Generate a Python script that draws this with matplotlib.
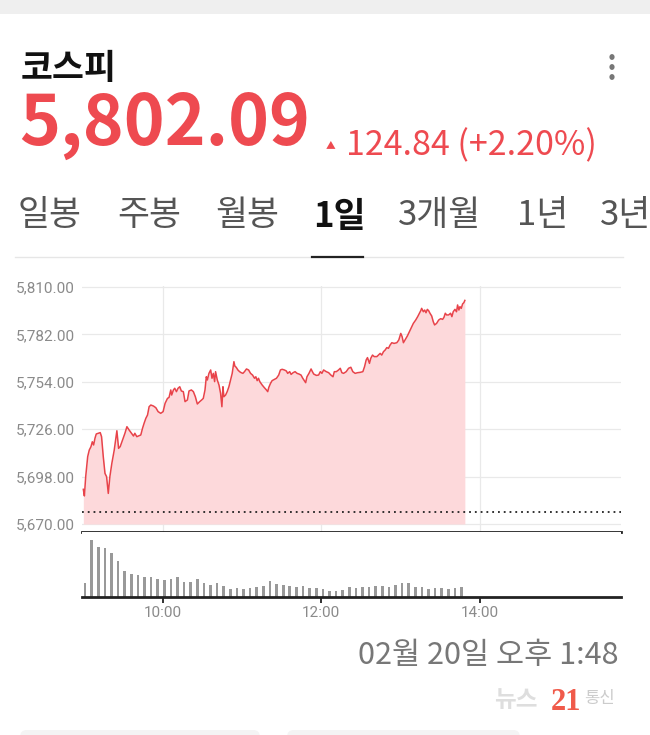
import numpy as np
import matplotlib
matplotlib.use('Agg')
import matplotlib.pyplot as plt
from matplotlib.patches import FancyBboxPatch, Rectangle

KR = ['Noto Sans CJK KR', 'DejaVu Sans']

# header values
index_name = '코스피'
last_price = '5,802.09'
change_text = '124.84 (+2.20%)'
prev_close = 5677.25
tabs = ['일봉', '주봉', '월봉', '1일', '3개월', '1년', '3년']
tab_x = [18, 117, 215, 313, 398, 517, 600]
stamp = '02월 20일 오후 1:48'

# intraday price, minutes after 09:00
price_t = [0.0, 0.8, 1.8, 3.3, 4.5, 5.8, 6.8, 7.8, 8.8, 9.8, 11.3, 12.8, 13.8, 15.1, 16.4,
           17.6, 18.9, 20.1, 21.6, 23.4, 25.4, 26.7, 27.9, 29.7, 31.5, 33.0, 34.7, 36.5, 38.0,
           39.0, 40.5, 43.5, 44.8, 46.0, 47.3, 48.6, 49.8, 51.1, 53.1, 54.9, 56.6, 58.6, 60.4,
           61.9, 63.7, 64.9, 66.2, 66.9, 68.2, 69.2, 70.5, 71.7, 73.0, 74.2, 75.7, 77.0, 78.8,
           80.0, 81.8, 83.3, 84.8, 86.3, 88.1, 89.6, 90.8, 92.1, 93.1, 93.9, 95.1, 96.4, 97.4,
           98.4, 99.4, 100.1, 101.4, 102.7, 103.9, 104.9, 105.7, 106.4, 107.7, 108.9, 110.2,
           111.5, 112.7, 114.0, 114.7, 115.7, 117.0, 118.3, 119.5, 120.8, 122.0, 123.5, 125.1,
           126.6, 128.1, 129.6, 130.6, 131.6, 132.6, 133.6, 135.4, 137.1, 138.6, 139.6, 140.4,
           141.7, 142.9, 144.7, 146.2, 147.9, 149.2, 150.5, 152.2, 153.7, 154.7, 156.2, 157.3,
           158.8, 160.3, 161.8, 163.3, 164.8, 166.1, 167.3, 168.3, 169.3, 170.8, 172.4, 173.4,
           174.4, 176.4, 178.1,
           179.4, 180.6, 181.9, 183.9, 185.7, 187.4, 189.0, 190.0, 191.5, 193.2, 194.5, 195.7,
           197.0, 199.0, 200.8, 202.5, 204.0, 205.8, 207.6, 209.6, 211.6, 212.9, 214.1, 215.1,
           216.6, 217.6, 218.9, 220.2, 222.2, 223.4, 224.7, 225.9, 227.2, 228.5, 229.7, 231.0,
           232.2, 233.5, 235.2, 237.3, 238.8, 240.3, 241.3, 242.3, 243.5, 245.3, 246.8, 248.6,
           249.8, 251.6, 253.1, 254.4, 255.4, 256.1, 257.4, 258.4, 259.4, 260.4, 261.4, 262.4,
           263.7, 264.9, 265.9, 267.4, 269.0, 270.5, 272.0, 273.0, 274.0, 275.0, 276.5, 278.0,
           279.0, 280.0, 281.3, 282.5, 283.3, 284.3, 285.1, 286.1, 287.1, 288.1, 288.8]
price_v = [5690.5, 5686.6, 5698.0, 5709.8, 5713.7, 5715.7, 5718.6, 5716.7, 5720.6, 5723.2,
           5723.6, 5724.0, 5721.6, 5709.8, 5699.9, 5698.0, 5688.1, 5698.0, 5705.9, 5713.7,
           5725.1, 5714.7, 5715.7, 5719.6, 5723.6, 5727.5, 5725.5, 5723.6, 5722.0, 5723.6,
           5721.6, 5722.6, 5726.5, 5729.5, 5732.4, 5734.4, 5739.3, 5740.3, 5739.7, 5738.7,
           5736.4, 5735.4, 5736.4, 5741.3, 5744.2, 5744.8, 5749.2, 5746.2, 5749.2, 5750.2,
           5748.2, 5750.2, 5751.1, 5748.6, 5748.2, 5742.3, 5743.3, 5748.6, 5749.2, 5748.2,
           5745.2, 5740.9, 5742.3, 5743.3, 5744.2, 5749.2, 5757.0, 5755.1, 5759.0, 5761.0,
           5756.1, 5759.0, 5754.1, 5760.0, 5755.1, 5752.1, 5747.2, 5739.3, 5751.1, 5745.2,
           5746.2, 5748.2, 5751.1, 5755.1, 5759.0, 5765.9, 5763.3, 5762.6, 5761.0, 5760.0,
           5759.4, 5759.0, 5760.0, 5761.6, 5761.0, 5759.0, 5758.0, 5756.1, 5757.0, 5754.7,
           5756.1, 5754.1, 5752.1, 5750.5, 5749.2, 5748.2, 5750.7, 5753.1, 5754.7, 5755.5,
           5756.1, 5758.0, 5761.0, 5761.4, 5761.0, 5760.4, 5759.0, 5760.0, 5758.4, 5759.4,
           5760.0, 5759.0, 5758.6, 5758.0, 5756.1, 5754.7, 5753.5, 5757.0, 5759.0, 5761.6,
           5760.0, 5758.6, 5757.8, 5758.0,
           5760.0, 5759.0, 5761.0, 5760.0, 5759.4, 5758.0, 5757.0, 5760.0, 5760.0, 5761.0,
           5762.0, 5759.4, 5759.0, 5760.0, 5762.0, 5762.6, 5760.0, 5759.0, 5759.4, 5759.6,
           5760.0, 5763.0, 5766.9, 5768.3, 5764.9, 5767.9, 5769.8, 5768.9, 5768.9, 5769.8,
           5770.8, 5769.8, 5771.8, 5772.8, 5774.2, 5773.8, 5775.7, 5777.1, 5776.7, 5777.1,
           5778.7, 5782.6, 5780.7, 5777.1, 5778.7, 5781.1, 5783.6, 5786.6, 5788.5, 5790.5,
           5792.5, 5794.5, 5796.0, 5797.4, 5795.4, 5796.4, 5794.8, 5796.8, 5796.0, 5794.5,
           5792.9, 5789.5, 5787.6, 5788.5, 5790.5, 5791.3, 5790.9, 5792.1, 5794.5, 5793.5,
           5793.5, 5794.5, 5792.5, 5795.4, 5796.8, 5795.4, 5799.4, 5796.4, 5798.4, 5797.4,
           5800.0, 5800.8, 5802.09]

# 5-minute volume bars (relative units)
vol_t = list(range(0, 290, 5))
vol = [39, 169, 147, 143, 129, 106, 77, 67, 64, 57, 59, 51, 49, 51, 57, 44, 42, 51, 39, 33,
       41, 31, 21, 25, 23, 25, 29, 31, 46, 36, 33, 31, 29, 31, 26, 24, 23, 17, 16, 19,
       29, 26, 27, 29, 31, 32, 29, 33, 41, 40, 29, 27, 22, 24, 24, 22, 26, 27]

y_ticks = [5670, 5698, 5726, 5754, 5782, 5810]
x_ticks = [60, 180, 300]
x_labels = ['10:00', '12:00', '14:00']

RED = '#ee4a50'
W, H = 650, 735

fig = plt.figure(figsize=(6.5, 7.35), dpi=100)
fig.patch.set_facecolor('white')


def fx(px):
    return px / W


def fy(py):
    return 1 - py / H


# top grey strip
fig.patches.append(Rectangle((0, fy(14)), 1, 14 / H, transform=fig.transFigure,
                             facecolor='#efefef', edgecolor='none'))

fig.text(fx(21), fy(68), index_name, family=KR, fontsize=25, fontweight='bold',
         color='#111111', va='center')
for dy in (57, 67, 77):
    fig.patches.append(plt.Circle((fx(612), fy(dy)), 2.6 / W, transform=fig.transFigure,
                                  facecolor='#777777', edgecolor='none'))

fig.text(fx(19), fy(125), last_price, family=KR, fontsize=50, fontweight='bold',
         color=RED, va='center')
fig.text(fx(326), fy(145), '▲', family=KR, fontsize=7, color=RED, va='center')
fig.text(fx(346), fy(146), change_text, family=KR, fontsize=24.5, color=RED, va='center')

for label, x in zip(tabs, tab_x):
    active = label == '1일'
    fig.text(fx(x), fy(216), label, family=KR, fontsize=25,
             fontweight='bold' if active else 'normal',
             color='#111111' if active else '#555555', va='center')
fig.add_artist(plt.Line2D([fx(15), fx(623)], [fy(257), fy(257)], color='#e6e6e6', lw=1))
fig.add_artist(plt.Line2D([fx(312), fx(363)], [fy(257), fy(257)], color='#222222', lw=1.6))

# price panel
ax = fig.add_axes([fx(82), fy(532), fx(621) - fx(82), (532 - 286) / H])
ax.fill_between(price_t, price_v, 5670, color='#fdd9db', lw=0)
ax.plot(price_t, price_v, color='#e8434a', lw=1.1)
ax.axhline(prev_close, color='#222222', lw=1.3, ls=(0, (1, 2.2)))
ax.set_xlim(-1, 407)
ax.set_ylim(5665.3, 5810.6)
ax.set_yticks(y_ticks)
ax.set_yticklabels([f'{v:,.2f}' for v in y_ticks])
ax.set_xticks(x_ticks)
ax.tick_params(axis='y', length=0, pad=5, labelsize=11, labelcolor='#8a8a8a')
ax.tick_params(axis='x', length=0, labelbottom=False)
for lab in ax.get_yticklabels():
    lab.set_family('Roboto')
ax.grid(True, color='#e9e9e9', lw=0.9)
ax.set_axisbelow(True)
for s in ('top', 'right', 'left'):
    ax.spines[s].set_visible(False)
ax.spines['bottom'].set_color('#222222')
ax.spines['bottom'].set_linewidth(2)

# volume panel
axv = fig.add_axes([fx(82), fy(596.5), fx(621) - fx(82), (596.5 - 532) / H])
axv.bar([t + 1.3 for t in vol_t], vol, width=2.0, color='#999999')
axv.set_xlim(-1, 407)
axv.set_ylim(0, 192)
axv.set_yticks([])
axv.set_xticks(x_ticks)
axv.set_xticklabels(x_labels, family='Roboto')
axv.tick_params(axis='x', length=4, width=1.3, color='#222222', pad=3,
                labelsize=11, labelcolor='#8a8a8a')
for s in ('top', 'right', 'left'):
    axv.spines[s].set_visible(False)
axv.spines['bottom'].set_color('#222222')
axv.spines['bottom'].set_linewidth(2)

fig.text(fx(618), fy(655), stamp, family=KR, fontsize=22, color='#777777',
         ha='right', va='center')

# watermark
fig.text(fx(494), fy(700), '뉴스', family=KR, fontsize=17, fontweight='bold',
         color='#dedede', va='center')
fig.text(fx(551), fy(702), '21', family=['Liberation Serif', 'DejaVu Serif'], fontsize=22,
         fontweight='bold', color='#f05a4a', va='center')
fig.text(fx(584), fy(698), '통신', family=KR, fontsize=12, color='#cccccc', va='center')

# bottom cards
for x0, x1 in ((20, 260), (287, 520)):
    fig.patches.append(FancyBboxPatch((fx(x0), fy(745)), fx(x1 - x0), 15 / H,
                                      boxstyle='round,pad=0,rounding_size=0.01',
                                      transform=fig.transFigure,
                                      facecolor='#f4f4f4', edgecolor='none'))

fig.savefig('out.png', dpi=100)
